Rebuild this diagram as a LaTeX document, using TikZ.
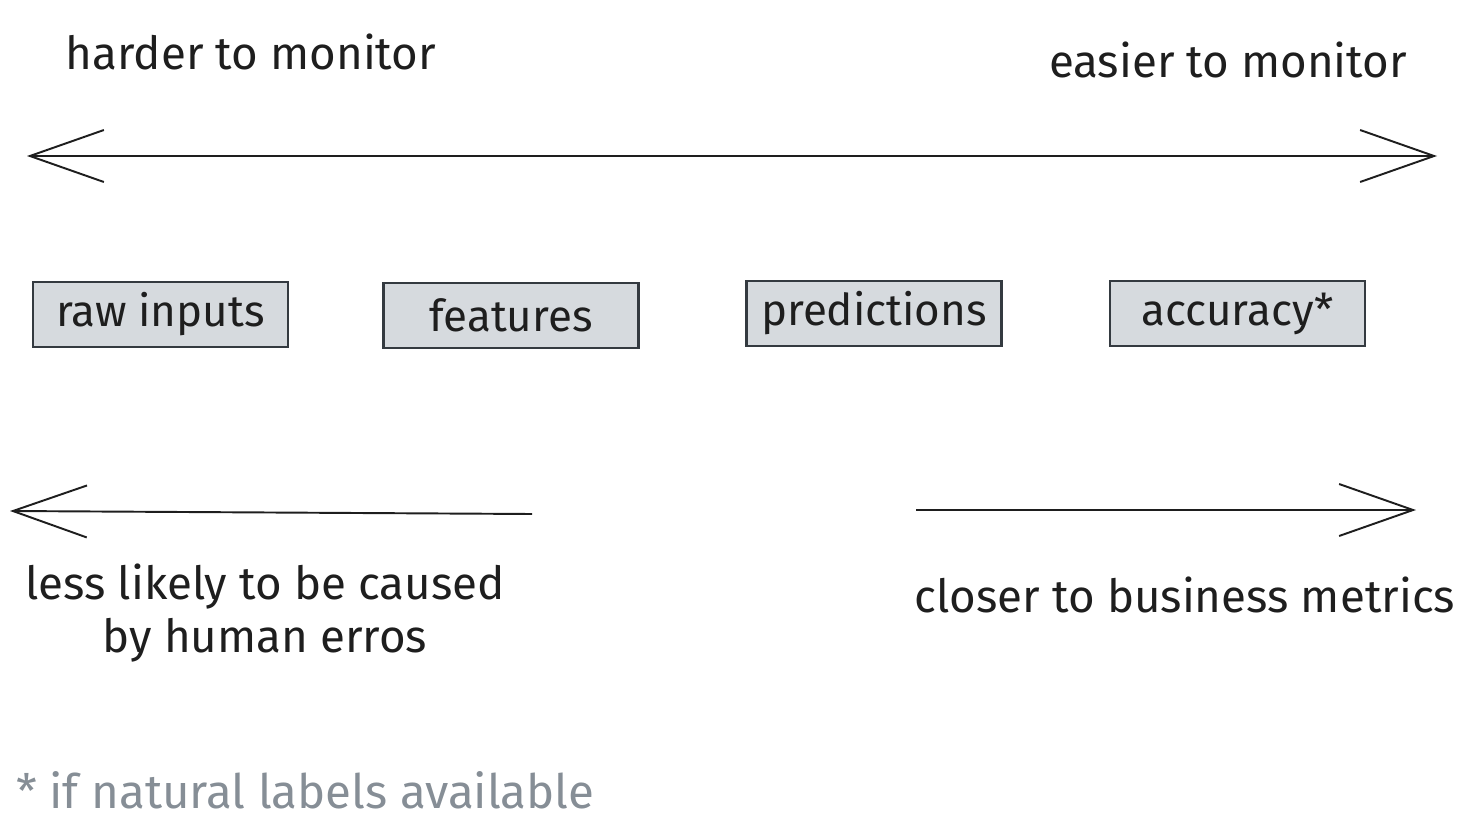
\documentclass[tikz,border=0pt]{standalone}
\usepackage{fontspec}
\setmainfont{Fira Sans}
\usetikzlibrary{arrows.meta, positioning}
\definecolor{ink}{RGB}{30,30,30}
\definecolor{boxfill}{RGB}{214,218,222}
\definecolor{boxline}{RGB}{52,58,64}
\definecolor{note}{RGB}{134,142,150}

\begin{document}
\begin{tikzpicture}[x=0.02cm, y=-0.02cm]
        \tikzset{ stage/.style ={draw=boxline, line width=1.2pt, fill=boxfill, text=ink, minimum width=5.1cm, minimum height=1.3cm, font=\fontsize{25}{29}\selectfont } }
        \tikzset{ lbl/.style ={text=ink, font=\fontsize{26}{30}\selectfont, align=center } }
        \tikzset{ barb/.style ={draw=ink, line width=1.1pt, arrows={Straight Barb[length=1.48cm, width=1.04cm, line width=1.1pt]-Straight Barb[length=1.48cm, width=1.04cm, line width=1.1pt]} } }

        \useasboundingbox (0,0) rectangle (1474,818);

        % top scale
        \node[lbl] (hard) at (251,52) {harder to monitor};
        \node[lbl] (easy) at (1228,60) {easier to monitor};

        \coordinate (top_l) at (27,156);
        \coordinate (top_r) at (1437,156);
        \draw[barb] (top_l) -- (top_r);

        % stages
        \node[stage] (raw)  at (160.5,314.5) {raw inputs};
        \node[stage] (feat) at (511,315.5)   {features};
        \node[stage] (pred) at (874,313.5)   {predictions};
        \node[stage] (acc)  at (1237.5,313.5) {accuracy*};

        % bottom arrows
        \coordinate (low_l_tip) at (10,511);
        \coordinate (low_l_end) at (532,514);
        \draw[barb, arrows={-Straight Barb[length=1.48cm, width=1.04cm, line width=1.1pt]}] (low_l_end) -- (low_l_tip);

        \coordinate (low_r_start) at (916,510);
        \coordinate (low_r_tip) at (1416,510);
        \draw[barb, arrows={-Straight Barb[length=1.48cm, width=1.04cm, line width=1.1pt]}] (low_r_start) -- (low_r_tip);

        \node[lbl] (human) at (265,613) {less likely to be caused\\by human erros};
        \node[lbl] (biz) at (1185,595) {closer to business metrics};

        % footnote
        \node[lbl, text=note, anchor=west, font=\fontsize{27}{31}\selectfont] (foot) at (10,790) {* if natural labels available};
\end{tikzpicture}
\end{document}
